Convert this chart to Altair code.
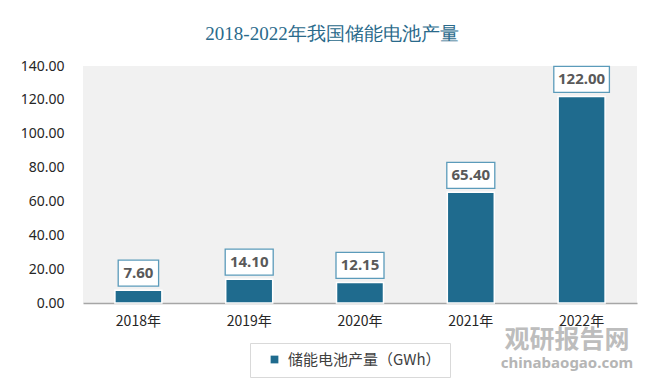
import altair as alt
import pandas as pd

years = ["2018年", "2019年", "2020年", "2021年", "2022年"]
values = [7.60, 14.10, 12.15, 65.40, 122.00]
series_name = "储能电池产量（GWh）"
title_text = "2018-2022年我国储能电池产量"
y_ticks = [0, 20, 40, 60, 80, 100, 120, 140]
watermark_cn = ["观研报告网"]
watermark_en = ["chinabaogao.com"]

df = pd.DataFrame({"year": years, "value": values, "series": series_name})
df["label"] = df["value"].map(lambda v: f"{v:.2f}")
df["box_w"] = df["label"].str.len() * 7.6 + 10

W, H = 554, 237
BAR = "#1f6b8e"

x = alt.X(
    "year:N", sort=years,
    scale=alt.Scale(paddingInner=0.576, paddingOuter=0.288),
    axis=alt.Axis(title=None, labelAngle=0, labelFontSize=14, labelColor="#262626",
                  labelFont="Noto Sans CJK SC", labelPadding=11, ticks=False,
                  domainColor="#a6a6a6", domainWidth=1.5, grid=False),
)
y = alt.Y(
    "value:Q", scale=alt.Scale(domain=[0, 140], nice=False),
    axis=alt.Axis(title=None, values=y_ticks, format=".2f", labelFontSize=14,
                  labelColor="#262626", labelFont="Noto Sans", labelPadding=19,
                  ticks=False, domain=False, grid=False),
)

base = alt.Chart(df)

bars = base.mark_bar(stroke="#ffffff", strokeWidth=1.5).encode(
    x=x, y=y,
    color=alt.Color(
        "series:N", scale=alt.Scale(range=[BAR]),
        legend=alt.Legend(
            orient="none", legendX=167, legendY=277, title=None,
            strokeColor="#d9d9d9", fillColor="#ffffff", padding=9,
            symbolType="square", symbolSize=60, symbolOffset=8,
            symbolStrokeWidth=0,
            labelFontSize=15, labelColor="#404040", labelFont="Noto Sans CJK SC",
            labelOffset=6,
        ),
    ),
)

boxes = base.mark_bar(fill="#ffffff", stroke="#5b9bba", strokeWidth=1.3,
                      yOffset=-4, y2Offset=-30).encode(
    x=x, y=y, y2=alt.Y2("value:Q"),
    size=alt.Size("box_w:Q", scale=None, legend=None),
)

labels = base.mark_text(dy=-17, fontSize=15, fontWeight="bold", color="#595959",
                        font="Noto Sans").encode(x=x, y=y, text="label:N")

title = alt.Chart(pd.DataFrame({"t": [title_text]})).mark_text(
    fontSize=19, font="Liberation Serif", color="#2a6a8b", align="center", baseline="middle"
).encode(x=alt.value(249), y=alt.value(-32), text="t:N")

wm1 = alt.Chart(pd.DataFrame({"t": watermark_cn})).mark_text(
    fontSize=25, fontWeight="bold", font="Noto Sans CJK SC", color="#9a9a9a", opacity=0.65,
    align="center", baseline="middle"
).encode(x=alt.value(484), y=alt.value(274), text="t:N")

wm2 = alt.Chart(pd.DataFrame({"t": watermark_en})).mark_text(
    fontSize=15, fontWeight="bold", font="Noto Sans", color="#a3a3a3", opacity=0.8,
    align="center", baseline="middle"
).encode(x=alt.value(484), y=alt.value(297), text="t:N")

chart = alt.layer(bars, boxes, labels, title, wm1, wm2).properties(
    width=W, height=H,
    autosize=alt.AutoSizeParams(type="none"),
    padding={"left": 75, "top": 58, "right": 18, "bottom": 77},
    background="#ffffff",
).configure_view(fill="#f1f1f1", stroke=None)

chart.save("out.html", embed_options={"renderer": "svg", "actions": False})
